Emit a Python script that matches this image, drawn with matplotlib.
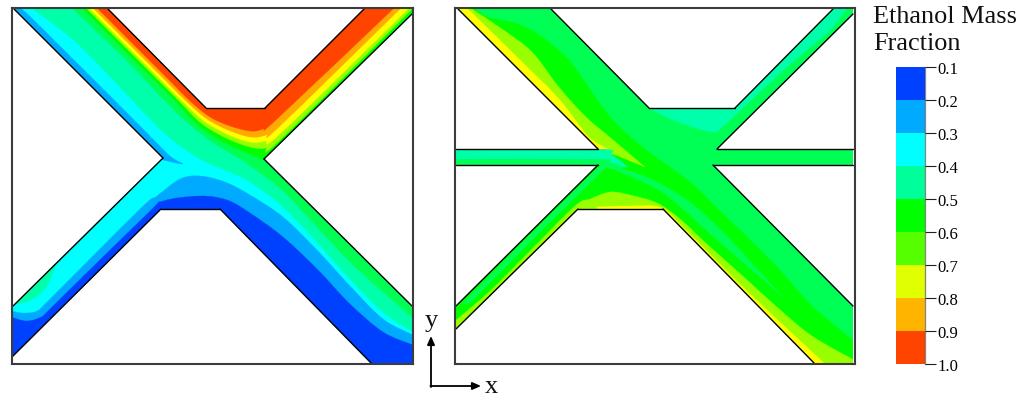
import matplotlib
matplotlib.use("Agg")
import matplotlib.pyplot as plt
from matplotlib.path import Path
from matplotlib.patches import PathPatch, Polygon
import numpy as np

plt.rcParams['font.family'] = ['Liberation Serif', 'DejaVu Serif']

# colours of the contour bands
BLUE = '#0040ff'
SKY = '#00aaff'
CYAN = '#00ffff'
AQUA = '#00ffaa'
SPRING = '#00ff55'
GREEN = '#00ff00'
LIME = '#99ff00'
YELLOW = '#ffff00'
ORANGE = '#ffaa00'
RED = '#ff4400'

# colour bar
bar_levels = [0.1, 0.2, 0.3, 0.4, 0.5, 0.6, 0.7, 0.8, 0.9, 1.0]
bar_colors = ['#0040ff', '#00aaff', '#00ffff', '#00ff9a', '#00ff00',
              '#55ff00', '#e0ff00', '#ffb400', '#ff4400']
bar_title = ['Ethanol Mass', 'Fraction']

# outlines of the channels, image pixels
left_channel = [(14, 10), (108, 10), (206, 109), (265, 109), (364, 10), (412, 10), (412, 15),
                (264, 160), (412, 307), (412, 364), (371, 364), (220, 210), (161, 210),
                (12, 358), (12, 308), (163, 159)]
right_channel = [(458, 10), (551, 10), (649, 109), (735, 109), (833, 10), (853, 10), (853, 15),
                 (717, 150), (853, 150), (853, 166), (713, 166), (853, 307), (853, 364),
                 (814, 364), (663, 210), (578, 210), (456, 330), (456, 307), (598, 166),
                 (456, 166), (456, 150), (598, 150)]

# left panel contour lines
l_aqua = [(33, 10), (60, 30), (80, 47), (117, 85), (157, 127), (175, 143), (200, 160), (225, 171),
          (250, 183), (283, 208), (317, 243), (350, 280), (383, 313), (413, 333)]
l_spring = [(73, 10), (125, 60), (165, 102), (190, 126), (215, 145), (240, 160), (260, 174),
            (283, 192), (317, 228), (350, 263), (383, 293), (413, 319)]
l_green = [(83, 10), (155, 82), (175, 102), (198, 126), (225, 144), (250, 155), (264, 161)]
l_lime = [(87, 10), (159, 82), (179, 102), (201, 124), (226, 139), (250, 148), (265, 149),
          (280, 141), (412, 10)]
l_yellow = [(90, 10), (162, 82), (182, 102), (204, 122), (227, 135), (250, 143), (265, 142),
            (282, 133), (408, 10)]
l_orange = [(94, 10), (166, 82), (186, 102), (207, 120), (228, 131), (250, 138), (266, 136),
            (280, 127), (400, 10)]
l_red = [(98, 10), (170, 82), (190, 102), (210, 118), (230, 127), (250, 132), (263, 130),
         (277, 120), (393, 10)]
l_sky = [(11, 312), (23, 314), (37, 312), (50, 300), (140, 210), (157, 197), (180, 180), (200, 177),
         (225, 183), (250, 196), (283, 218), (317, 251), (350, 287), (383, 320), (413, 336)]
l_blue = [(11, 318), (27, 322), (43, 317), (53, 307), (147, 215), (163, 202), (200, 197), (227, 201),
          (250, 214), (283, 238), (317, 270), (350, 305), (383, 333), (413, 346)]
l_wedge = [(15, 10), (23, 11), (80, 67), (143, 130), (170, 157), (183, 165), (163, 161)]
l_patch = [(11, 307), (33, 300), (47, 287), (55, 268)]

# right panel contour lines
r_top_aqua = [(651, 110), (678, 123), (712, 133), (722, 128), (745, 107), (788, 67), (828, 33), (846, 10)]
r_green = [(475, 10), (488, 18), (518, 25), (542, 38), (568, 60), (585, 83), (612, 120), (645, 150),
           (690, 183), (720, 212), (745, 236), (778, 269), (812, 307), (854, 342)]
r_lime_top = [(472, 10), (502, 30), (532, 53), (558, 87), (585, 117), (612, 140), (645, 168)]
r_yellow_top = [(468, 10), (516, 57), (559, 100), (588, 137), (608, 150)]
r_lime_low = [(455, 322), (490, 292), (530, 252), (575, 207), (590, 200), (610, 193), (630, 196), (657, 204),
              (680, 220), (708, 246), (745, 279), (778, 309), (812, 337), (854, 361)]
r_yellow_low = [(597, 208), (630, 207), (662, 209), (685, 230), (745, 290), (795, 337), (825, 365)]
r_lens_up = [(612, 168), (633, 173), (657, 183), (690, 203), (720, 230), (750, 262), (780, 295)]
r_lens_low = [(780, 295), (745, 265), (707, 232), (683, 210), (657, 190), (620, 173), (612, 168)]
r_arm_up = [(462, 305), (530, 236), (600, 167)]
r_arm_low = [(607, 167), (540, 233), (470, 304)]
r_inlet = [(455, 150), (598, 150), (612, 156), (627, 168), (610, 163), (598, 160), (455, 160)]
r_inlet_low = [(598, 158), (610, 160), (625, 168), (612, 170), (598, 166)]


def fig_box(x0, y0, x1, y1):
    # pixel box -> figure fraction
    return [x0 / 1024, 1 - y1 / 402, (x1 - x0) / 1024, (y1 - y0) / 402]


def smooth_path(curve, closure=()):
    # bezier through the read points, closure points stay straight
    pts = np.array(curve, dtype=float)
    verts = [pts[0]]
    codes = [Path.MOVETO]
    for i in range(len(pts) - 1):
        p0 = pts[max(i - 1, 0)]
        p1 = pts[i]
        p2 = pts[i + 1]
        p3 = pts[min(i + 2, len(pts) - 1)]
        verts += [p1 + (p2 - p0) / 6, p2 - (p3 - p1) / 6, p2]
        codes += [Path.CURVE4] * 3
    for c in closure:
        verts.append(np.array(c, dtype=float))
        codes.append(Path.LINETO)
    verts.append(pts[0])
    codes.append(Path.CLOSEPOLY)
    return Path(verts, codes)


def band(ax, clip, color, curve, closure=()):
    patch = PathPatch(smooth_path(curve, closure), facecolor=color, edgecolor=color, lw=0.2)
    ax.add_patch(patch)
    patch.set_clip_path(clip)


def make_panel(box, outline, base):
    ax = fig.add_axes(fig_box(*box))
    ax.set_xlim(box[0], box[2])
    ax.set_ylim(box[3], box[1])
    ax.set_xticks([])
    ax.set_yticks([])
    for s in ax.spines.values():
        s.set_linewidth(1.5)
        s.set_color('#3c3c3c')
    clip = Polygon(outline, closed=True, facecolor=base, edgecolor='none')
    ax.add_patch(clip)
    return ax, clip


def draw_walls(ax, outline):
    # black walls only, the open ends of the channel sit on the frame
    xs = [p[0] for p in outline]
    ys = [p[1] for p in outline]
    for a, b in zip(outline, outline[1:] + outline[:1]):
        on_x = a[0] == b[0] and a[0] in (min(xs), max(xs))
        on_y = a[1] == b[1] and a[1] in (min(ys), max(ys))
        if on_x or on_y:
            continue
        ax.plot([a[0], b[0]], [a[1], b[1]], color='black', lw=1.0, solid_capstyle='round')


fig = plt.figure(figsize=(10.24, 4.02), dpi=100)

# left panel
ax1, clip1 = make_panel((11.5, 9, 412.5, 364.5), left_channel, CYAN)
band(ax1, clip1, AQUA, l_aqua, [(413, 9)])
band(ax1, clip1, SPRING, l_spring, [(413, 9)])
band(ax1, clip1, GREEN, l_green, [(413, 15), (413, 9)])
band(ax1, clip1, LIME, l_lime, [(413, 9)])
band(ax1, clip1, YELLOW, l_yellow)
band(ax1, clip1, ORANGE, l_orange)
band(ax1, clip1, RED, l_red)
band(ax1, clip1, SKY, l_sky, [(413, 365), (11, 365)])
band(ax1, clip1, BLUE, l_blue, [(413, 365), (11, 365)])
band(ax1, clip1, SKY, l_wedge)
band(ax1, clip1, AQUA, l_patch, [(55, 255), (11, 290)])
draw_walls(ax1, left_channel)

# right panel
ax2, clip2 = make_panel((455, 9, 854.5, 365), right_channel, SPRING)
band(ax2, clip2, GREEN, r_green, [(854, 365), (814, 365), (663, 211), (578, 211), (455, 331), (455, 307),
                                  (598, 166), (620, 166), (598, 150), (458, 9)])
band(ax2, clip2, LIME, r_lime_top, [(618, 157), (598, 150), (458, 9)])
band(ax2, clip2, YELLOW, r_yellow_top, [(598, 150), (458, 9)])
band(ax2, clip2, SPRING, r_arm_up + r_arm_low)
band(ax2, clip2, SPRING, r_lens_up + r_lens_low)
band(ax2, clip2, LIME, r_lime_low, [(854, 366), (455, 366)])
band(ax2, clip2, YELLOW, r_yellow_low, [(590, 365)])
band(ax2, clip2, SPRING, r_inlet_low)
band(ax2, clip2, AQUA, r_inlet)
band(ax2, clip2, AQUA, r_top_aqua, [(833, 9), (735, 109)])
draw_walls(ax2, right_channel)

# colour bar
cax = fig.add_axes(fig_box(896, 68, 925, 365))
for i, c in enumerate(bar_colors):
    cax.barh((bar_levels[i] + bar_levels[i + 1]) / 2, 1, height=bar_levels[i + 1] - bar_levels[i], color=c)
cax.set_ylim(1.0, 0.1)
cax.set_xlim(0, 1)
cax.set_xticks([])
cax.yaxis.tick_right()
cax.set_yticks(bar_levels)
cax.set_yticklabels([f'{v:.1f}' for v in bar_levels], fontsize=12)
cax.tick_params(axis='y', length=8, width=0.8, pad=1, color='#222222')
for name, s in cax.spines.items():
    s.set_visible(name == 'right')
    s.set_color('#222222')
    s.set_alpha(0.55)
    s.set_linewidth(0.9)

# overlay in pixels for the title and the x / y arrows
over = fig.add_axes([0, 0, 1, 1])
over.set_xlim(0, 1024)
over.set_ylim(402, 0)
over.axis('off')
over.patch.set_alpha(0)
over.text(873, 23, bar_title[0], fontsize=18.9, va='baseline', color='#111111')
over.text(873, 50, bar_title[1], fontsize=18.9, va='baseline', color='#111111')
over.annotate('', xy=(431, 337), xytext=(431, 388),
              arrowprops=dict(arrowstyle='-|>,head_width=0.22,head_length=0.5', color='black', lw=1.3, shrinkA=0, shrinkB=0))
over.annotate('', xy=(481, 387), xytext=(430.4, 387),
              arrowprops=dict(arrowstyle='-|>,head_width=0.22,head_length=0.5', color='black', lw=1.3, shrinkA=0, shrinkB=0))
over.text(431, 327, 'y', fontsize=19, ha='center', va='baseline', color='#111111')
over.text(491, 393, 'x', fontsize=19, ha='center', va='baseline', color='#111111')

fig.savefig('out.png', dpi=100)
plt.close(fig)
